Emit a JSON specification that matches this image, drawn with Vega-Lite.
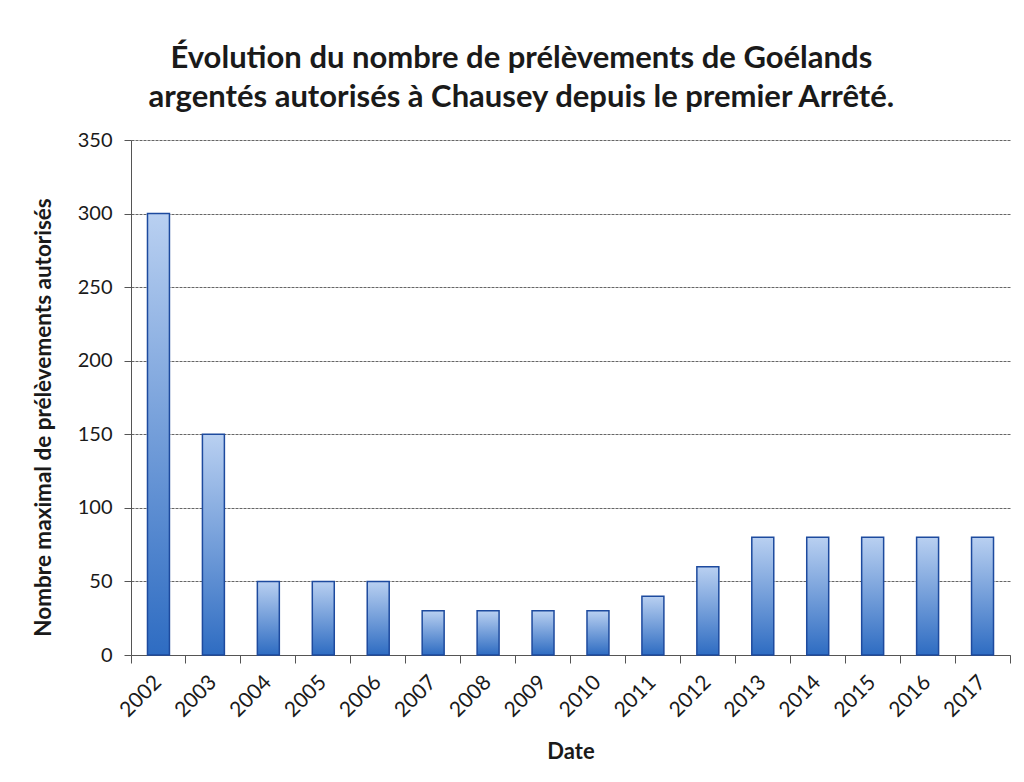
{
  "$schema": "https://vega.github.io/schema/vega-lite/v6.json",
  "width": 879,
  "height": 515,
  "autosize": {"type": "none"},
  "padding": {"left": 131, "top": 140, "right": 14, "bottom": 127},
  "background": "white",
  "title": {
    "text": ["Évolution du nombre de prélèvements de Goélands", "argentés autorisés à Chausey depuis le premier Arrêté."],
    "font": "Lato",
    "fontSize": 31,
    "fontWeight": "bold",
    "color": "#1a1a1a",
    "lineHeight": 39,
    "frame": "bounds",
    "anchor": "middle",
    "offset": 16
  },
  "data": {
    "values": [
      {"Date": "2002", "n": 300},
      {"Date": "2003", "n": 150},
      {"Date": "2004", "n": 50},
      {"Date": "2005", "n": 50},
      {"Date": "2006", "n": 50},
      {"Date": "2007", "n": 30},
      {"Date": "2008", "n": 30},
      {"Date": "2009", "n": 30},
      {"Date": "2010", "n": 30},
      {"Date": "2011", "n": 40},
      {"Date": "2012", "n": 60},
      {"Date": "2013", "n": 80},
      {"Date": "2014", "n": 80},
      {"Date": "2015", "n": 80},
      {"Date": "2016", "n": 80},
      {"Date": "2017", "n": 80}
    ]
  },
  "mark": {
    "type": "bar",
    "width": {"band": 0.4},
    "color": {
      "gradient": "linear",
      "x1": 0, "y1": 0, "x2": 0, "y2": 1,
      "stops": [
        {"offset": 0, "color": "#b9d0f1"},
        {"offset": 1, "color": "#2e6cc2"}
      ]
    },
    "stroke": "#1d4a9e",
    "strokeWidth": 1.5
  },
  "encoding": {
    "x": {
      "field": "Date",
      "type": "ordinal",
      "scale": {"paddingInner": 0, "paddingOuter": 0},
      "axis": {
        "title": "Date",
        "titleFont": "Lato",
        "titleFontSize": 22,
        "titleFontWeight": "bold",
        "titleColor": "#1a1a1a",
        "titlePadding": 21,
        "labelFont": "Lato",
        "labelFontSize": 21,
        "labelColor": "#1a1a1a",
        "labelAngle": -45,
        "labelAlign": "right",
        "labelBaseline": "middle",
        "labelPadding": 16,
        "labelOffset": 0,
        "bandPosition": 1,
        "tickExtra": true,
        "tickSize": 8,
        "tickColor": "#555555",
        "domainColor": "#555555",
        "grid": false
      }
    },
    "y": {
      "field": "n",
      "type": "quantitative",
      "scale": {"domain": [0, 350]},
      "axis": {
        "title": "Nombre maximal de prélèvements autorisés",
        "titleFont": "Lato",
        "titleFontSize": 22.5,
        "titleFontWeight": "bold",
        "titleColor": "#1a1a1a",
        "titlePadding": 22,
        "titleY": 277,
        "values": [0, 50, 100, 150, 200, 250, 300, 350],
        "labelFont": "Lato",
        "labelFontSize": 20,
        "labelColor": "#1a1a1a",
        "labelPadding": 12,
        "tickSize": 7,
        "tickColor": "#555555",
        "domainColor": "#555555",
        "grid": true,
        "gridColor": "#666666",
        "gridWidth": 1,
        "gridDash": [3, 1]
      }
    }
  },
  "config": {"view": {"stroke": null}}
}
